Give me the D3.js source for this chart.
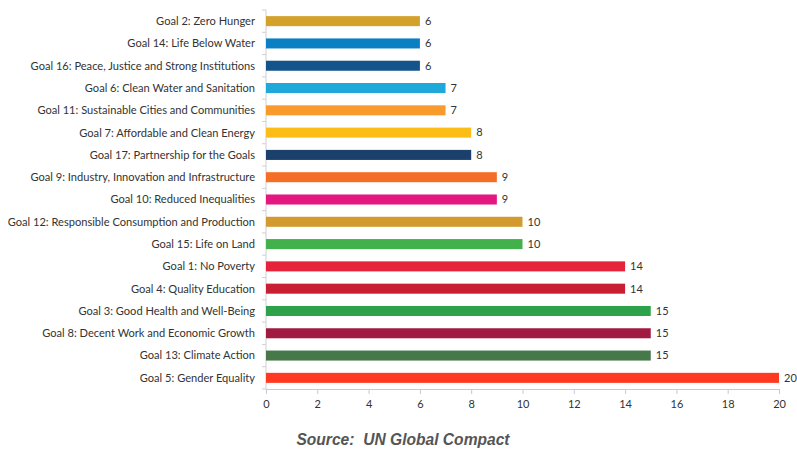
<!DOCTYPE html>
<html>
<head>
<meta charset="utf-8">
<script src="https://d3js.org/d3.v7.min.js"></script>
<style>
  body { margin: 0; background: #fff; }
  svg { display: block; }
</style>
</head>
<body>
<svg id="chart" width="797" height="451"></svg>
<script>
// data, top to bottom
var goals = [
	"Goal 2: Zero Hunger",
	"Goal 14: Life Below Water",
	"Goal 16: Peace, Justice and Strong Institutions",
	"Goal 6: Clean Water and Sanitation",
	"Goal 11: Sustainable Cities and Communities",
	"Goal 7: Affordable and Clean Energy",
	"Goal 17: Partnership for the Goals",
	"Goal 9: Industry, Innovation and Infrastructure",
	"Goal 10: Reduced Inequalities",
	"Goal 12: Responsible Consumption and Production",
	"Goal 15: Life on Land",
	"Goal 1: No Poverty",
	"Goal 4: Quality Education",
	"Goal 3: Good Health and Well-Being",
	"Goal 8: Decent Work and Economic Growth",
	"Goal 13: Climate Action",
	"Goal 5: Gender Equality"
];
var counts = [6, 6, 6, 7, 7, 8, 8, 9, 9, 10, 10, 14, 14, 15, 15, 15, 20];
var colors = [
	"#d4a12b", "#0b7fc3", "#15538b", "#1ea9da", "#f99a2c", "#fbbd16",
	"#1b406b", "#f56e27", "#e3177f", "#d39a2f", "#43b14b", "#e5243b",
	"#c81f33", "#2ea24b", "#a11a42", "#46784a", "#ff3a21"
];
var xTicks = [0, 2, 4, 6, 8, 10, 12, 14, 16, 18, 20];
var sourceText = "Source:  UN Global Compact";

var svg = d3.select("#chart");
var margin = { left: 266, right: 18, top: 10, bottom: 62 };
var W = 797, H = 451;

var x = d3.scaleLinear().domain([0, 20]).range([margin.left, W - margin.right]);
var y = d3.scaleBand().domain(goals).range([margin.top, H - margin.bottom]).paddingInner(0.55).paddingOuter(0.275);

// y axis line + separator ticks
var step = y.step();
svg.append("line")
	.attr("x1", x(0)).attr("x2", x(0))
	.attr("y1", margin.top).attr("y2", H - margin.bottom)
	.attr("stroke", "#cfcfd6").attr("stroke-width", 1);
svg.selectAll(".sep").data(d3.range(goals.length + 1)).enter()
	.append("line")
	.attr("x1", x(0) - 4).attr("x2", x(0))
	.attr("y1", function (i) { return margin.top + i * step; })
	.attr("y2", function (i) { return margin.top + i * step; })
	.attr("stroke", "#cfcfd6");

// bars
svg.selectAll(".bar").data(goals).enter()
	.append("rect")
	.attr("x", x(0))
	.attr("y", function (d) { return y(d); })
	.attr("width", function (d, i) { return x(counts[i]) - x(0); })
	.attr("height", y.bandwidth())
	.attr("fill", function (d, i) { return colors[i]; });

// category labels
svg.selectAll(".lab").data(goals).enter()
	.append("text")
	.attr("x", x(0) - 11)
	.attr("y", function (d) { return y(d) + y.bandwidth() / 2; })
	.attr("dy", "0.35em")
	.attr("text-anchor", "end")
	.style("font-family", "Lato, 'Open Sans', sans-serif")
	.style("font-size", "11.1px")
	.style("fill", "#333")
	.text(function (d) { return d; });

// value labels
svg.selectAll(".val").data(goals).enter()
	.append("text")
	.attr("x", function (d, i) { return x(counts[i]) + 5; })
	.attr("y", function (d) { return y(d) + y.bandwidth() / 2; })
	.attr("dy", "0.35em")
	.style("font-family", "Lato, 'Open Sans', sans-serif")
	.style("font-size", "11px")
	.style("fill", "#333")
	.text(function (d, i) { return counts[i]; });

// x axis
var xAxis = svg.append("g")
	.attr("transform", "translate(0," + (H - margin.bottom) + ")")
	.call(d3.axisBottom(x).tickValues(xTicks).tickSize(5).tickSizeOuter(0));
xAxis.select(".domain").attr("stroke", "#c9c6dc");
xAxis.selectAll(".tick line").attr("stroke", "#c9c6dc");
xAxis.selectAll("text")
	.attr("y", 11)
	.style("font-family", "Lato, 'Open Sans', sans-serif")
	.style("font-size", "11px")
	.style("fill", "#333");

// source
svg.append("text")
	.attr("x", 403).attr("y", 445)
	.attr("text-anchor", "middle")
	.style("font-family", "'Liberation Sans', Arial, sans-serif")
	.style("font-size", "15.6px")
	.style("font-weight", "bold")
	.style("font-style", "italic")
	.style("fill", "#555")
	.attr("xml:space", "preserve")
	.text(sourceText);
</script>
</body>
</html>
